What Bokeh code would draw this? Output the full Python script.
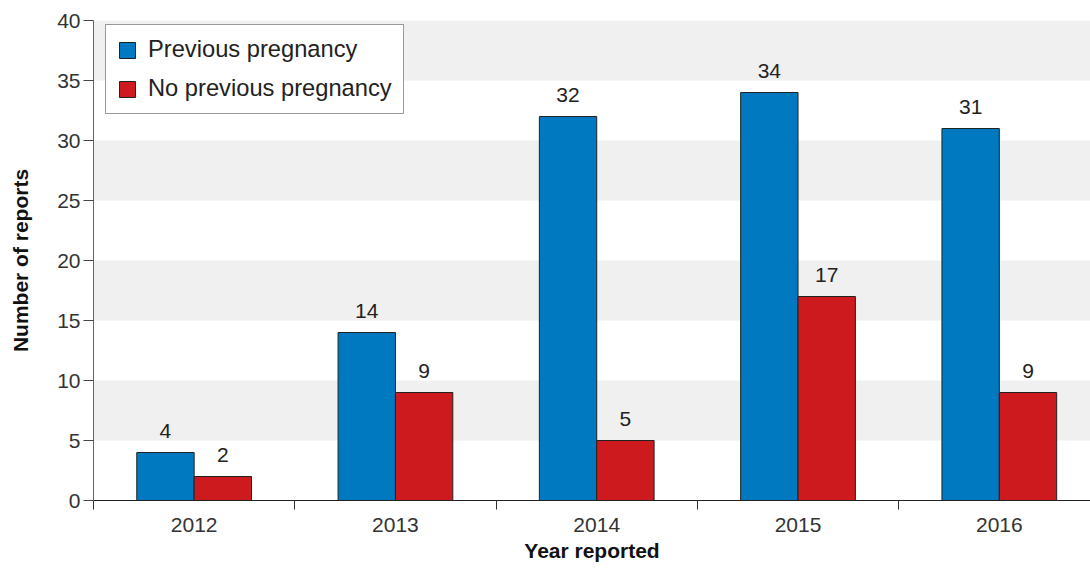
from bokeh.plotting import figure
from bokeh.models import ColumnDataSource, Range1d, FixedTicker, Legend, LegendItem
from bokeh.transform import dodge
from bokeh.core.properties import value
from bokeh.embed import file_html
from bokeh.resources import INLINE

years = ["2012", "2013", "2014", "2015", "2016"]
previous = [4, 14, 32, 34, 31]
no_previous = [2, 9, 5, 17, 9]

FONT = "Liberation Sans"
BLUE = "#0079c1"
RED = "#cd1a1f"

xs = [i + 0.5 for i in range(len(years))]
src = ColumnDataSource(dict(
    x=xs, prev=previous, noprev=no_previous,
    prev_txt=[str(v) for v in previous], noprev_txt=[str(v) for v in no_previous],
))

p = figure(width=1090, height=569, output_backend="svg", toolbar_location=None,
           x_range=Range1d(0, 4.953), y_range=Range1d(0, 40),
           min_border_left=93, min_border_right=0, min_border_top=20, min_border_bottom=69)
p.outline_line_color = None
p.background_fill_color = "white"

bw = 0.285
r1 = p.vbar(x=dodge("x", -bw / 2), top="prev", width=bw, source=src,
            fill_color=BLUE, line_color="#222222", line_width=1)
r2 = p.vbar(x=dodge("x", bw / 2), top="noprev", width=bw, source=src,
            fill_color=RED, line_color="#222222", line_width=1)

for col, txt, off in [("prev", "prev_txt", -bw / 2), ("noprev", "noprev_txt", bw / 2)]:
    p.text(x=dodge("x", off), y=col, text=txt, source=src, text_align="center",
           text_baseline="bottom", y_offset=-15, text_font=value(FONT),
           text_font_size="21px", text_color="#222222")

# grid bands
p.xgrid.grid_line_color = None
p.ygrid.grid_line_color = None
p.ygrid.band_fill_color = "#f0f0f0"
p.ygrid.band_fill_alpha = 1.0

# y axis
p.yaxis.ticker = FixedTicker(ticks=list(range(0, 41, 5)))
p.yaxis.axis_label = "Number of reports"
p.yaxis.axis_label_text_font = FONT
p.yaxis.axis_label_text_font_style = "bold"
p.yaxis.axis_label_text_font_size = "21px"
p.yaxis.axis_label_text_color = "#111111"
p.yaxis.axis_label_standoff = 22
p.yaxis.major_label_text_font = FONT
p.yaxis.major_label_text_font_size = "21px"
p.yaxis.major_label_text_color = "#333333"
p.yaxis.major_label_standoff = 3
p.yaxis.axis_line_color = "#666666"
p.yaxis.major_tick_line_color = "#444444"
p.yaxis.major_tick_out = 10
p.yaxis.major_tick_in = 0
p.yaxis.minor_tick_line_color = None

# x axis
p.xaxis.ticker = FixedTicker(ticks=xs, minor_ticks=list(range(0, 6)))
p.xaxis.major_label_overrides = {x: y for x, y in zip(xs, years)}
p.xaxis.major_tick_line_color = None
p.xaxis.minor_tick_line_color = "#333333"
p.xaxis.minor_tick_out = 9
p.xaxis.minor_tick_in = 0
p.xaxis.axis_line_color = "#222222"
p.xaxis.major_label_text_font = FONT
p.xaxis.major_label_text_font_size = "21px"
p.xaxis.major_label_text_color = "#333333"
p.xaxis.major_label_standoff = 8
p.xaxis.axis_label = "Year reported"
p.xaxis.axis_label_text_font = FONT
p.xaxis.axis_label_text_font_style = "bold"
p.xaxis.axis_label_text_font_size = "21px"
p.xaxis.axis_label_text_color = "#111111"
p.xaxis.axis_label_standoff = 4

legend = Legend(items=[LegendItem(label="Previous pregnancy", renderers=[r1]),
                       LegendItem(label="No previous pregnancy", renderers=[r2])],
                location=(12, 386))
legend.label_text_font = FONT
legend.label_text_font_size = "23.7px"
legend.label_text_color = "#222222"
legend.glyph_width = 20
legend.glyph_height = 20
legend.label_height = 20
legend.label_standoff = 11
legend.spacing = 12
legend.padding = 11
legend.margin = 0
legend.border_line_color = "#333333"
legend.border_line_width = 1
legend.background_fill_color = "white"
legend.background_fill_alpha = 1
p.add_layout(legend)

open("out.html", "w").write(file_html(p, INLINE))
